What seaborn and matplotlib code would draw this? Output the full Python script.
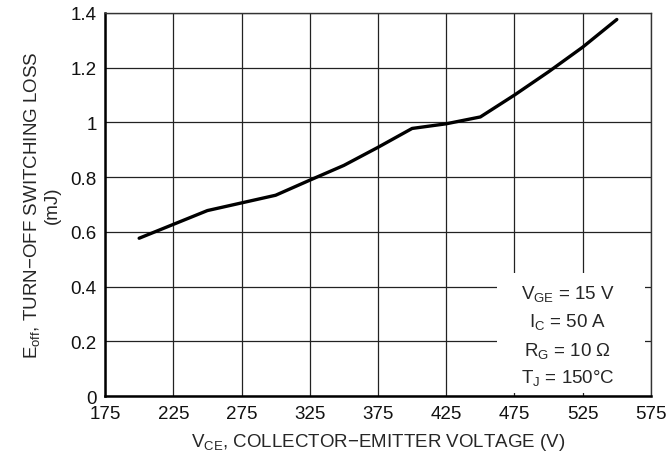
import matplotlib
matplotlib.use("Agg")
import matplotlib.pyplot as plt
import seaborn as sns
import pandas as pd
from matplotlib.patches import Rectangle

vce = [200, 250, 300, 325, 350, 375, 400, 425, 450, 475, 500, 525, 550]
eoff = [0.577, 0.678, 0.734, 0.789, 0.843, 0.909, 0.978, 0.995, 1.02, 1.10, 1.185, 1.275, 1.376]
x_ticks = [175, 225, 275, 325, 375, 425, 475, 525, 575]
y_ticks = [0, 0.2, 0.4, 0.6, 0.8, 1.0, 1.2, 1.4]
y_tick_labels = ["0", "0.2", "0.4", "0.6", "0.8", "1", "1.2", "1.4"]
notes = [r"$\mathregular{V_{GE}}$ = 15 V", r"$\mathregular{I_C}$ = 50 A",
         r"$\mathregular{R_G}$ = 10 Ω", r"$\mathregular{T_J}$ = 150°C"]

sns.set_style("white")
plt.rcParams["font.family"] = ["Liberation Sans", "DejaVu Sans"]
plt.rcParams["mathtext.fontset"] = "custom"
plt.rcParams["mathtext.rm"] = "Liberation Sans"
plt.rcParams["mathtext.it"] = "Liberation Sans"

df = pd.DataFrame({"vce": vce, "eoff": eoff})

fig = plt.figure(figsize=(6.69, 4.64), dpi=100)
ax = fig.add_axes([0.157, 0.144, 0.816, 0.826])

ax.set_xlim(175, 575)
ax.set_ylim(0, 1.4)
ax.set_xticks(x_ticks)
ax.set_yticks(y_ticks)
ax.set_yticklabels(y_tick_labels)
ax.grid(True, color="#222222", linewidth=0.9, zorder=0)
ax.set_axisbelow(True)

ax.add_patch(Rectangle((0.718, 0.008), 0.271, 0.313, transform=ax.transAxes,
                       facecolor="white", edgecolor="none", zorder=1.5))

sns.lineplot(data=df, x="vce", y="eoff", ax=ax, color="black", linewidth=2.4, zorder=3)

fs = 13.5
ax.tick_params(axis="x", labelsize=fs, length=0, pad=6, colors="#111111")
ax.tick_params(axis="y", labelsize=fs, length=0, pad=6, colors="#111111")
for side in ["left", "bottom"]:
    ax.spines[side].set_color("black")
    ax.spines[side].set_linewidth(1.8)
for side in ["top", "right"]:
    ax.spines[side].set_color("#333333")
    ax.spines[side].set_linewidth(1.0)

ax.set_xlabel(r"$\mathregular{V_{CE}}$, COLLECTOR−EMITTER VOLTAGE (V)", fontsize=fs, labelpad=7)
ax.set_ylabel("$\\mathregular{E_{off}}$, TURN−OFF SWITCHING LOSS\n(mJ)", fontsize=fs, labelpad=7,
              linespacing=1.15)

note_y = [0.377, 0.274, 0.168, 0.069]
for t, yy in zip(notes, note_y):
    ax.text(514, yy, t, ha="center", va="center", fontsize=fs, zorder=4)

fig.savefig("out.png", dpi=100)
